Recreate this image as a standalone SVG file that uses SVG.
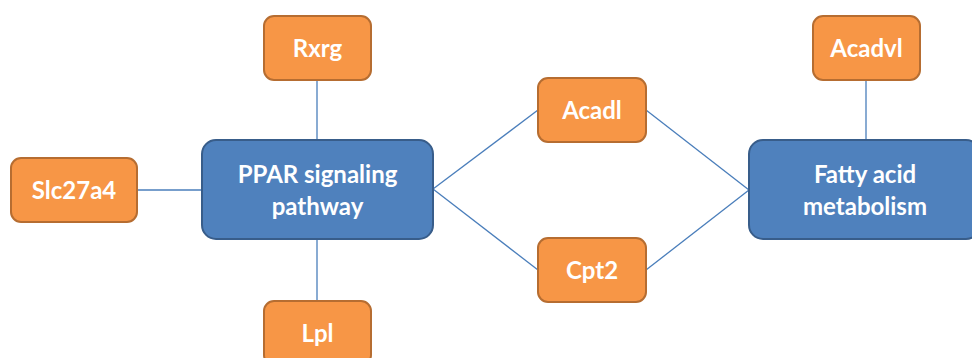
<svg xmlns="http://www.w3.org/2000/svg" width="972" height="358" viewBox="0 0 972 358">
  <style>
    .gene rect { fill: #F79646; stroke: #B66D31; stroke-width: 2; }
    .path rect { fill: #4F81BD; stroke: #385D8A; stroke-width: 2; }
    text { font-family: Lato, "Open Sans", "Liberation Sans", sans-serif; font-weight: bold; font-size: 24px; fill: #FFFFFF; text-anchor: middle; }
    .edges line { stroke: #4A7EBB; stroke-width: 1.3; }
  </style>

  <g class="edges" id="connectors">
    <line x1="317" y1="80" x2="317" y2="140"/>
    <line x1="317" y1="239" x2="317" y2="301"/>
    <line x1="137" y1="190" x2="202" y2="190"/>
    <line x1="866" y1="80" x2="866" y2="140"/>
    <line x1="433" y1="189" x2="538" y2="110"/>
    <line x1="433" y1="189" x2="538" y2="270"/>
    <line x1="646" y1="110" x2="749" y2="190"/>
    <line x1="646" y1="270" x2="749" y2="190"/>
  </g>

  <g id="ppar" class="path">
    <rect x="202" y="140" width="231" height="99" rx="14"/>
    <text x="317.5" y="183">PPAR signaling</text>
    <text x="317.5" y="215">pathway</text>
  </g>

  <g id="fatty-acid" class="path">
    <rect x="749" y="140" width="231" height="99" rx="14"/>
    <text x="865" y="183">Fatty acid</text>
    <text x="865" y="215">metabolism</text>
  </g>

  <g id="rxrg" class="gene">
    <rect x="264" y="16" width="107" height="64" rx="10"/>
    <text x="317.5" y="57">Rxrg</text>
  </g>

  <g id="lpl" class="gene">
    <rect x="264" y="301" width="107" height="64" rx="10"/>
    <text x="317.5" y="342">Lpl</text>
  </g>

  <g id="slc27a4" class="gene">
    <rect x="11" y="158" width="126" height="64" rx="10"/>
    <text x="74" y="199">Slc27a4</text>
  </g>

  <g id="acadl" class="gene">
    <rect x="538" y="78" width="108" height="64" rx="10"/>
    <text x="592" y="119">Acadl</text>
  </g>

  <g id="cpt2" class="gene">
    <rect x="538" y="238" width="108" height="64" rx="10"/>
    <text x="592" y="279">Cpt2</text>
  </g>

  <g id="acadvl" class="gene">
    <rect x="813" y="16" width="107" height="64" rx="10"/>
    <text x="866.5" y="57">Acadvl</text>
  </g>
</svg>
